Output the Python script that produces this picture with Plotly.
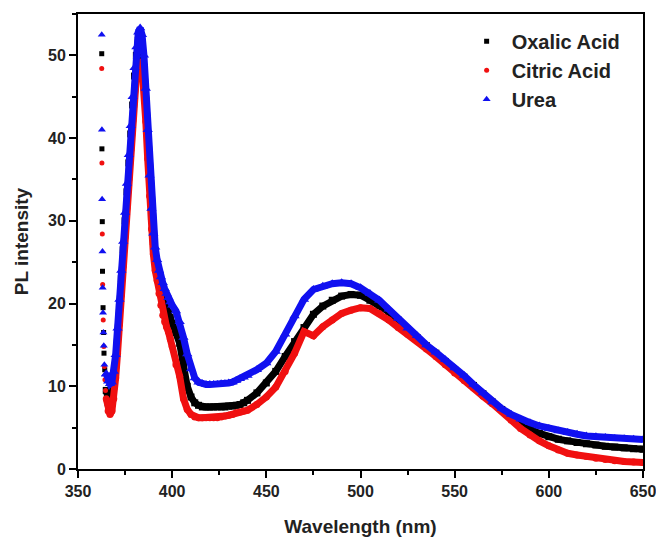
import plotly.graph_objects as go

# Shared wavelength grid (nm) for the measured spectra
wavelength = (
    list(range(365, 401))                      # 365 .. 400, 1 nm
    + list(range(402, 441, 2))                 # 402 .. 440, 2 nm
    + list(range(445, 651, 5))                 # 445 .. 650, 5 nm
)

oxalic = [
    9.5, 8.0, 7.6, 8.2, 10.0, 12.5, 16.0, 19.5, 23.0, 26.5,
    30.0, 33.5, 37.0, 40.5, 44.0, 47.5, 50.0, 51.8, 52.2, 51.3,
    48.5, 44.5, 39.5, 34.5, 30.5, 27.5, 25.5, 24.0, 22.7, 21.7,
    20.8, 20.1, 19.5, 18.9, 18.3, 17.6,
    16.5, 15.2, 12.5, 10.0, 8.7, 8.0, 7.7, 7.5, 7.5, 7.5,
    7.5, 7.5, 7.5, 7.5, 7.6, 7.6, 7.7, 7.8, 8.0, 8.3,
    9.2, 10.4, 11.8, 13.6, 15.4, 17.1, 18.7, 19.7, 20.4, 20.9,
    21.1, 21.0, 20.4, 19.8, 19.0, 18.0, 16.9, 15.9, 14.9, 14.0,
    13.0, 12.0, 11.1, 10.1, 9.1, 8.1, 7.2, 6.3, 5.5, 4.8,
    4.3, 3.9, 3.6, 3.4, 3.2, 3.05, 2.9, 2.75, 2.65, 2.55,
    2.45, 2.4,
]

citric = [
    8.5, 7.0, 6.6, 7.0, 8.5, 11.0, 14.0, 17.5, 21.0, 24.5,
    28.0, 31.5, 35.0, 38.5, 42.0, 45.0, 47.5, 48.8, 49.2, 48.5,
    46.0, 42.0, 37.5, 33.0, 29.0, 26.0, 24.0, 22.8, 21.2, 19.8,
    18.6, 17.8, 17.2, 16.6, 15.7, 14.8,
    12.6, 11.2, 8.5, 7.2, 6.6, 6.3, 6.2, 6.2, 6.2, 6.2,
    6.2, 6.2, 6.3, 6.4, 6.5, 6.6, 6.8, 6.9, 7.0, 7.1,
    7.8, 8.7, 9.9, 11.8, 14.0, 16.6, 16.1, 17.2, 18.0, 18.8,
    19.2, 19.5, 19.4, 18.8, 18.0, 17.1, 16.3, 15.5, 14.5, 13.6,
    12.6, 11.6, 10.7, 9.8, 8.8, 7.9, 7.0, 5.9, 4.9, 4.1,
    3.4, 2.8, 2.3, 1.9, 1.7, 1.5, 1.3, 1.15, 1.0, 0.9,
    0.85, 0.8,
]

urea = [
    11.5, 10.6, 10.3, 10.5, 11.8, 13.8, 17.0, 20.5, 24.0, 27.5,
    31.0, 34.5, 38.0, 41.5, 45.0, 48.5, 51.0, 52.8, 53.3, 52.5,
    50.0, 46.0, 41.0, 35.5, 31.5, 28.5, 26.8, 25.3, 24.0, 23.2,
    22.5, 21.8, 21.2, 20.7, 20.2, 19.8,
    19.1, 17.8, 15.9, 13.9, 12.1, 11.0, 10.5, 10.3, 10.2, 10.2,
    10.2, 10.2, 10.3, 10.3, 10.4, 10.5, 10.7, 10.9, 11.1, 11.3,
    12.0, 12.8, 14.2, 16.3, 18.5, 20.5, 21.7, 22.1, 22.4, 22.5,
    22.4, 21.9, 21.2, 20.4, 19.3, 18.2, 17.0, 16.1, 15.0, 14.1,
    13.2, 12.2, 11.3, 10.2, 9.2, 8.1, 7.3, 6.6, 6.0, 5.6,
    5.2, 4.9, 4.6, 4.4, 4.2, 4.0, 3.9, 3.8, 3.7, 3.65,
    3.6, 3.55,
]

# Leading readings recorded right at the start of the scan
oxalic_start_wl = [362.6, 362.7, 362.9, 363.0, 363.3, 363.6, 363.8, 364.2]
oxalic_start = [50.2, 38.7, 29.9, 23.9, 19.5, 16.5, 14.0, 12.0]
citric_start_wl = [362.6, 362.7, 362.9, 363.1, 363.4, 363.7, 364.0, 364.3, 364.6]
citric_start = [48.4, 37.0, 28.4, 22.3, 18.0, 14.8, 12.4, 10.8, 9.5]
urea_start_wl = [362.6, 362.7, 362.8, 363.0, 363.1, 363.3, 363.5, 363.7, 364.0, 364.3]
urea_start = [52.5, 41.0, 32.6, 26.3, 21.9, 18.9, 16.5, 14.9, 12.6, 11.4]

x_ticks = [350, 400, 450, 500, 550, 600, 650]
y_ticks = [0, 10, 20, 30, 40, 50]

series = [
    ("Oxalic Acid", oxalic_start_wl, oxalic_start, oxalic, "#000000", "square", 5),
    ("Citric Acid", citric_start_wl, citric_start, citric, "#f01010", "circle", 5),
    ("Urea", urea_start_wl, urea_start, urea, "#1010f0", "triangle-up", 7),
]

for name, _, _, vals, *_ in series:
    assert len(vals) == len(wavelength), name

fig = go.Figure()
for name, swl, sval, vals, color, symbol, msize in series:
    fig.add_trace(go.Scatter(
        x=wavelength, y=vals, mode="lines+markers", name=name,
        legendgroup=name, showlegend=False,
        line=dict(color=color, width=7),
        marker=dict(color=color, symbol=symbol, size=msize + 2),
    ))
    fig.add_trace(go.Scatter(
        x=swl, y=sval, mode="markers", name=name, legendgroup=name,
        marker=dict(color=color, symbol=symbol, size=msize),
    ))

font_family = "Liberation Sans, Arial, sans-serif"
axis_common = dict(
    showline=True, linecolor="black", linewidth=2, mirror=True,
    ticks="outside", ticklen=7, tickwidth=2, tickcolor="black",
    showgrid=False, zeroline=False, automargin=False,
    ticklabeloverflow="allow",
    tickfont=dict(family=font_family, size=16, color="#222", weight="bold"),
)

fig.update_layout(
    width=656, height=539,
    margin=dict(l=78, r=13, t=14, b=70),
    paper_bgcolor="white", plot_bgcolor="white",
    xaxis=dict(
        range=[350, 650], tickvals=x_ticks,
        minor=dict(ticks="outside", ticklen=4, tickwidth=2, dtick=25, tickcolor="black"),
        title=dict(text="Wavelength (nm)", standoff=20,
                   font=dict(family=font_family, size=19, color="#222", weight="bold")),
        **axis_common,
    ),
    yaxis=dict(
        range=[0, 55], tickvals=y_ticks,
        minor=dict(ticks="outside", ticklen=4, tickwidth=2, dtick=5, tickcolor="black"),
        title=dict(text="PL intensity", standoff=14,
                   font=dict(family=font_family, size=19, color="#222", weight="bold")),
        **axis_common,
    ),
    legend=dict(
        x=0.679, y=0.983, xanchor="left", yanchor="top",
        bgcolor="rgba(255,255,255,0)",
        itemwidth=40,
        font=dict(family=font_family, size=20, color="#222", weight="bold"),
        tracegroupgap=0,
    ),
    showlegend=True,
)

fig.write_html("out.html")
